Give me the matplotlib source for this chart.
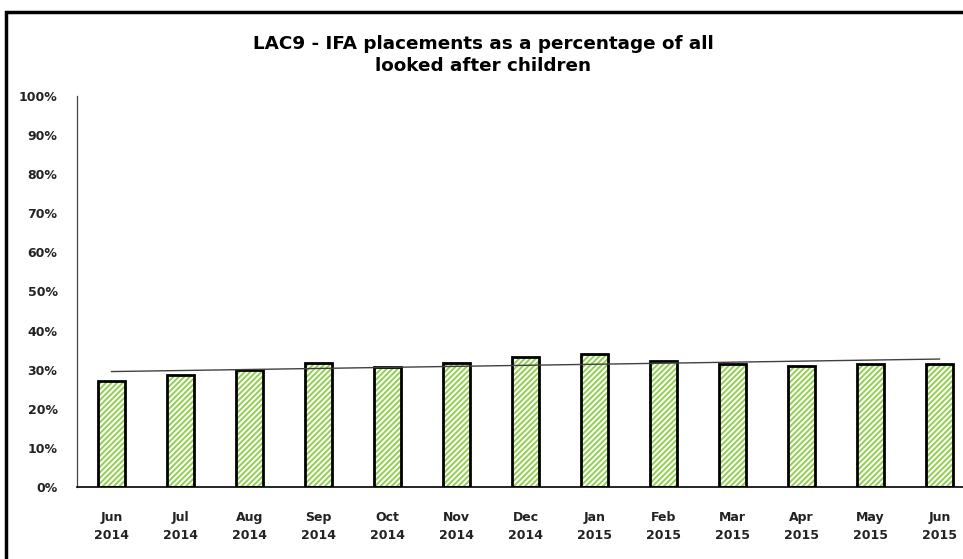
import numpy as np
import matplotlib.pyplot as plt
from matplotlib.patches import Rectangle

# data
months = ['Jun\n2014', 'Jul\n2014', 'Aug\n2014', 'Sep\n2014', 'Oct\n2014', 'Nov\n2014', 'Dec\n2014',
          'Jan\n2015', 'Feb\n2015', 'Mar\n2015', 'Apr\n2015', 'May\n2015', 'Jun\n2015']
ifa_pct = [27.1, 28.7, 29.9, 31.7, 30.8, 31.7, 33.2, 33.9, 32.3, 31.4, 31.0, 31.4, 31.5]
yticks = [0, 10, 20, 30, 40, 50, 60, 70, 80, 90, 100]

plt.rcParams['font.family'] = ['DejaVu Sans']
plt.rcParams['hatch.linewidth'] = 1.4

fig = plt.figure(figsize=(9.63, 5.59), dpi=100)

# outer chart frame (cut off at right/bottom in the original)
fig.patches.append(Rectangle((6 / 963, -0.1), 1.2, (559 - 12) / 559 + 0.1,
                             transform=fig.transFigure, fill=False,
                             edgecolor='black', linewidth=2.5))

ax = fig.add_axes([77 / 963, 72 / 559, 897 / 963, 391 / 559])
x = np.arange(len(months))

# hatched fill, then black outline on top
ax.bar(x, ifa_pct, width=0.4, facecolor='white', edgecolor='#92d050',
       hatch='//////', linewidth=0, zorder=2)
ax.bar(x, ifa_pct, width=0.4, fill=False, edgecolor='black', linewidth=2, zorder=3)

# linear trendline
k, b = np.polyfit(x, ifa_pct, 1)
ax.plot(x, k * x + b, color='#404040', linewidth=1, zorder=4)

ax.set_xlim(-0.5, len(months) - 0.5)
ax.set_ylim(0, 100)
ax.set_yticks(yticks)
ax.set_yticklabels([f'{v}%' for v in yticks])
ax.set_xticks(x)
ax.set_xticklabels(months, linespacing=1.5)
ax.tick_params(axis='y', length=0, pad=14, labelsize=9)
ax.tick_params(axis='x', length=0, pad=17, labelsize=9)
for lab in ax.get_xticklabels() + ax.get_yticklabels():
    lab.set_fontweight('bold')
    lab.set_color('#222222')

for s in ['top', 'right']:
    ax.spines[s].set_visible(False)
ax.spines['left'].set_color('#444444')
ax.spines['bottom'].set_color('black')
ax.spines['left'].set_linewidth(0.9)
ax.spines['bottom'].set_linewidth(1.2)

fig.text(483 / 963, 1 - 55 / 559, 'LAC9 - IFA placements as a percentage of all\nlooked after children',
         ha='center', va='center', fontsize=13.2, fontweight='bold', linespacing=1.3)

fig.savefig('out.png', dpi=100)
